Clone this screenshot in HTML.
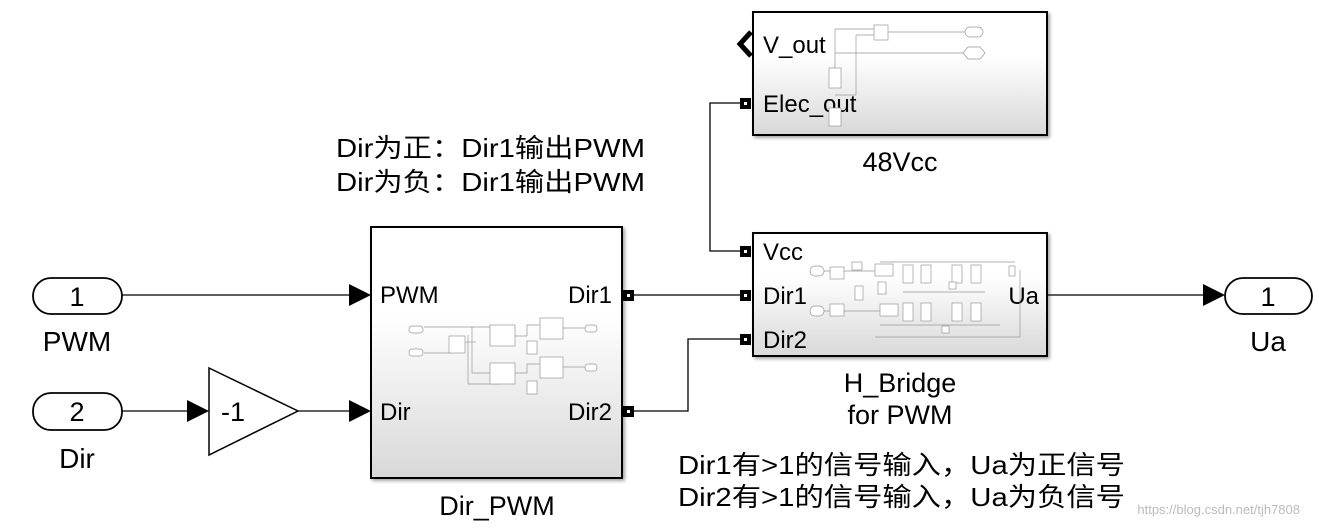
<!DOCTYPE html>
<html><head><meta charset="utf-8"><style>
html,body{margin:0;padding:0;background:#fff;width:1319px;height:529px;overflow:hidden}
text{font-family:"Liberation Sans","Noto Sans CJK SC",sans-serif;fill:#000}
</style></head><body>
<svg width="1319" height="529" viewBox="0 0 1319 529" xmlns="http://www.w3.org/2000/svg">
<defs>
<linearGradient id="g" x1="0" y1="0" x2="0" y2="1"><stop offset="0" stop-color="#fff"/><stop offset="0.35" stop-color="#fff"/><stop offset="1" stop-color="#d8d8d8"/></linearGradient>
<filter id="s" x="-5%" y="-5%" width="115%" height="115%"><feDropShadow dx="2" dy="2" stdDeviation="1.5" flood-color="#000" flood-opacity="0.35"/></filter>
<g id="port"><rect x="0" y="0" width="11" height="11" fill="#000"/><rect x="4" y="4" width="3" height="3" fill="#fff"/></g>
</defs>
<!-- texts top -->
<text x="336" y="157" font-size="26" textLength="309" lengthAdjust="spacingAndGlyphs">Dir为正：Dir1输出PWM</text>
<text x="336" y="191" font-size="26" textLength="309" lengthAdjust="spacingAndGlyphs">Dir为负：Dir1输出PWM</text>
<!-- inports -->
<rect x="33" y="278" width="89" height="36" rx="18" fill="#fff" stroke="#000" stroke-width="1.8"/>
<text x="77" y="306" font-size="27" text-anchor="middle">1</text>
<text x="77" y="351" font-size="28" text-anchor="middle">PWM</text>
<rect x="33" y="393" width="89" height="37" rx="18" fill="#fff" stroke="#000" stroke-width="1.8"/>
<text x="77" y="421" font-size="27" text-anchor="middle">2</text>
<text x="77" y="468" font-size="28" text-anchor="middle">Dir</text>
<!-- gain -->
<polygon points="209,368 298,411 209,455" fill="#fff" stroke="#000" stroke-width="1.5"/>
<text x="221" y="421" font-size="27">-1</text>
<!-- lines -->
<g stroke="#000" stroke-width="1.3" fill="none">
<line x1="122" y1="295" x2="352" y2="295"/>
<line x1="122" y1="411" x2="190" y2="411"/>
<line x1="298" y1="411" x2="352" y2="411"/>
<line x1="634" y1="295" x2="740" y2="295"/>
<polyline points="634,411 688,411 688,339 740,339"/>
<polyline points="740,103 710,103 710,251 740,251"/>
<line x1="1047" y1="295" x2="1205" y2="295"/>
</g>
<g fill="#000">
<polygon points="349,284 371,295 349,306"/>
<polygon points="187,400 209,411 187,422"/>
<polygon points="349,400 371,411 349,422"/>
<polygon points="1203,284 1225,295 1203,306"/>
</g>
<!-- Dir_PWM -->
<rect x="371" y="227" width="251" height="251" fill="url(#g)" stroke="#000" stroke-width="2" filter="url(#s)"/>
<text x="380" y="303" font-size="24">PWM</text>
<text x="380" y="420" font-size="24">Dir</text>
<text x="612" y="303" font-size="24" text-anchor="end">Dir1</text>
<text x="612" y="420" font-size="24" text-anchor="end">Dir2</text>
<use href="#port" x="623" y="290"/>
<use href="#port" x="623" y="406"/>
<g stroke="#999" stroke-width="0.7" fill="#fff">
<polyline points="424,327 500,327" fill="none"/><polyline points="424,353 452,353" fill="none"/>
<polyline points="472,327 472,373 500,373" fill="none"/><polyline points="468,335 468,384 500,384" fill="none"/>
<polyline points="465,342 476,342" fill="none"/>
<rect x="449" y="336" width="16" height="17"/><rect x="490" y="325" width="25" height="21"/><rect x="490" y="363" width="25" height="21"/>
<rect x="540" y="318" width="23" height="21"/><rect x="540" y="357" width="23" height="21"/>
<rect x="527" y="341" width="10" height="13"/><rect x="527" y="381" width="10" height="13"/>
<rect x="409" y="326" width="14" height="7" rx="3"/><rect x="409" y="349" width="14" height="7" rx="3"/>
<polyline points="515,336 527,336 527,325 540,325" fill="none"/><polyline points="515,373 527,373 527,364 540,364" fill="none"/>
<polyline points="563,328 585,328" fill="none"/><polyline points="563,367 585,367" fill="none"/>
<rect x="585" y="325" width="12" height="7" rx="3"/><rect x="585" y="364" width="12" height="7" rx="3"/>
</g>
<text x="497" y="515" font-size="27" text-anchor="middle">Dir_PWM</text>
<!-- 48Vcc -->
<rect x="753" y="12" width="294" height="123" fill="url(#g)" stroke="#000" stroke-width="2" filter="url(#s)"/>
<polyline points="751,32 740,44 751,56" fill="none" stroke="#000" stroke-width="5"/>
<text x="763" y="53" font-size="24">V_out</text>
<text x="763" y="112" font-size="24">Elec_out</text>
<use href="#port" x="740" y="98"/>
<g stroke="#999" stroke-width="0.7" fill="none">
<polyline points="835,29 874,29"/><polyline points="835,29 835,68"/><polyline points="856,35 874,35"/><polyline points="856,35 856,95 835,95"/>
<rect x="874" y="25" width="14" height="15" fill="#fff"/>
<polyline points="888,32 965,32"/><polyline points="835,53 965,53"/><rect x="829" y="68" width="12" height="20" fill="#fff"/><rect x="829" y="108" width="12" height="18" fill="#fff"/>
<rect x="965" y="27" width="18" height="10" rx="5" fill="#fff"/><polygon points="968,47 980,47 985,53 980,59 968,59 963,53" fill="#fff"/>
</g>
<text x="900" y="171" font-size="27" text-anchor="middle">48Vcc</text>
<!-- H_Bridge -->
<rect x="753" y="233" width="294" height="123" fill="url(#g)" stroke="#000" stroke-width="2" filter="url(#s)"/>
<text x="763" y="260" font-size="24">Vcc</text>
<text x="763" y="304" font-size="24">Dir1</text>
<text x="763" y="348" font-size="24">Dir2</text>
<text x="1039" y="304" font-size="24" text-anchor="end">Ua</text>
<use href="#port" x="740" y="246"/>
<use href="#port" x="740" y="290"/>
<use href="#port" x="740" y="334"/>
<g stroke="#999" stroke-width="0.7" fill="#fff">
<polyline points="880,262 1015,262" fill="none"/><polyline points="880,325 1000,325" fill="none"/><polyline points="875,337 1020,337 1020,270" fill="none"/>
<polyline points="903,292 985,292" fill="none"/><polyline points="824,271 875,271" fill="none"/><polyline points="824,311 880,311" fill="none"/>
<rect x="810" y="266" width="14" height="10" rx="5"/><rect x="810" y="306" width="14" height="10" rx="5"/>
<rect x="830" y="267" width="14" height="12"/><rect x="830" y="304" width="14" height="12"/>
<rect x="852" y="262" width="10" height="8"/><rect x="855" y="286" width="8" height="14"/><rect x="875" y="264" width="18" height="12"/><rect x="880" y="304" width="18" height="12"/>
<rect x="878" y="282" width="8" height="12"/>
<rect x="903" y="265" width="10" height="18"/><rect x="921" y="265" width="10" height="18"/><rect x="952" y="265" width="10" height="18"/><rect x="971" y="265" width="10" height="18"/>
<rect x="903" y="303" width="10" height="18"/><rect x="921" y="303" width="10" height="18"/><rect x="952" y="303" width="10" height="18"/><rect x="971" y="303" width="10" height="18"/>
<rect x="1009" y="266" width="6" height="10"/><rect x="949" y="282" width="7" height="7"/><rect x="942" y="326" width="7" height="7"/>
</g>
<text x="900" y="392" font-size="27" text-anchor="middle">H_Bridge</text>
<text x="900" y="424" font-size="27" text-anchor="middle">for PWM</text>
<!-- outport -->
<rect x="1225" y="278" width="87" height="36" rx="18" fill="#fff" stroke="#000" stroke-width="1.8"/>
<text x="1268" y="306" font-size="27" text-anchor="middle">1</text>
<text x="1268" y="351" font-size="28" text-anchor="middle">Ua</text>
<!-- bottom texts -->
<text x="678" y="474" font-size="26" textLength="447" lengthAdjust="spacingAndGlyphs">Dir1有&gt;1的信号输入，Ua为正信号</text>
<text x="678" y="506" font-size="26" textLength="447" lengthAdjust="spacingAndGlyphs">Dir2有&gt;1的信号输入，Ua为负信号</text>
<text x="1300" y="514" font-size="13" text-anchor="end" style="fill:#bbb">https://blog.csdn.net/tjh7808</text>
</svg>
</body></html>
